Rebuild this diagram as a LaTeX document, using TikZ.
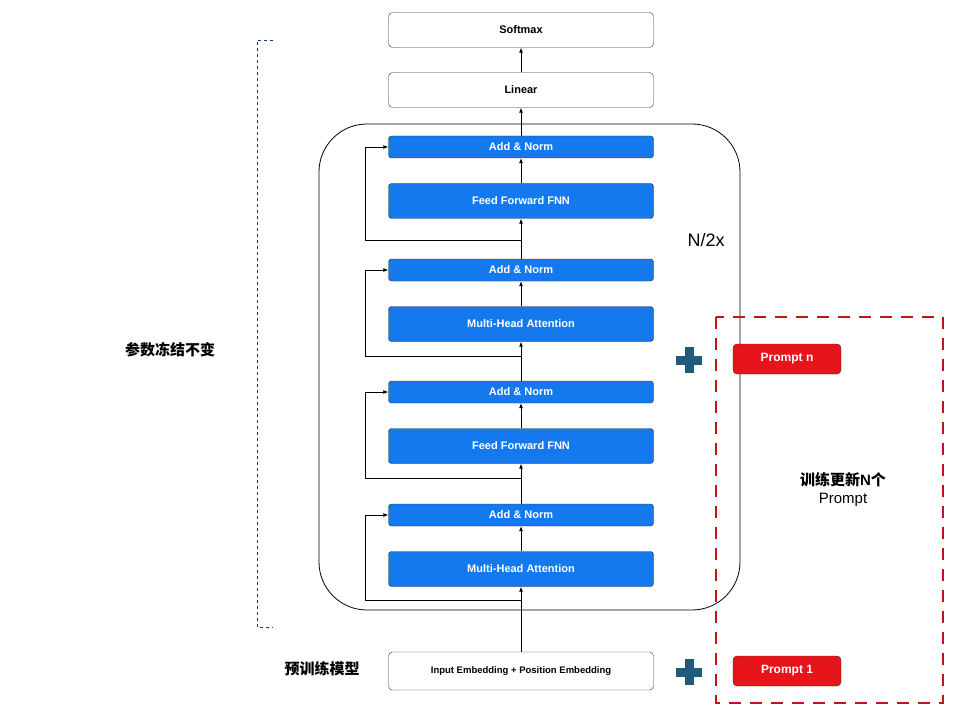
\documentclass[tikz,border=0pt]{standalone}
\usepackage{fontspec}
\setmainfont{Liberation Sans}
\newfontfamily\cjk{Noto Sans CJK SC}
\usetikzlibrary{arrows.meta}
\definecolor{blockblue}{HTML}{1479EE}
\definecolor{promptred}{HTML}{E8141C}
\definecolor{plusteal}{HTML}{215B7B}
\tikzset{
  blk/.style={draw=black!80,fill=blockblue,rounded corners=3pt,minimum width=265pt,text=white,font=\bfseries\fontsize{11}{13}\selectfont},
  wbox/.style={draw=black!80,fill=white,rounded corners=4pt,minimum width=265pt,minimum height=35pt,font=\bfseries\fontsize{11}{13}\selectfont},
  prm/.style={draw=black!80,fill=promptred,rounded corners=4pt,minimum width=108pt,minimum height=30pt,text=white,font=\bfseries\fontsize{12}{14}\selectfont},
  flow/.style={-{Latex[length=5pt,width=4pt]},line width=0.8pt},
  plus/.style={minimum size=26pt,inner sep=0pt,path picture={
    \fill[plusteal] ([xshift=-4.5pt]path picture bounding box.north) rectangle ([xshift=4.5pt]path picture bounding box.south);
    \fill[plusteal] ([yshift=-4.5pt]path picture bounding box.west) rectangle ([yshift=4.5pt]path picture bounding box.east);}}
}
\begin{document}
\begin{tikzpicture}[x=1pt,y=-1pt]
\useasboundingbox (0,0) rectangle (976,711);

% stack frame
\draw[line width=0.8pt,rounded corners=48pt] (319,124) rectangle (740,610);

% top boxes
\node[wbox] (softmax) at (521,30) {Softmax};
\node[wbox] (linear) at (521,90) {Linear};

% encoder blocks
\node[blk,minimum height=22pt] (an1) at (521,147) {Add \& Norm};
\node[blk,minimum height=35pt] (ffn1) at (521,201) {Feed Forward FNN};
\node[blk,minimum height=22pt] (an2) at (521,270) {Add \& Norm};
\node[blk,minimum height=35pt] (mha1) at (521,324) {Multi-Head Attention};
\node[blk,minimum height=22pt] (an3) at (521,392) {Add \& Norm};
\node[blk,minimum height=35pt] (ffn2) at (521,446) {Feed Forward FNN};
\node[blk,minimum height=22pt] (an4) at (521,515) {Add \& Norm};
\node[blk,minimum height=35pt] (mha2) at (521,569) {Multi-Head Attention};

\node[wbox,minimum height=38pt,font=\bfseries\fontsize{9.5}{11}\selectfont] (embed) at (521,671) {Input Embedding + Position Embedding};

% main flow
\draw[flow] (embed) -- (mha2);
\draw[flow] (mha2) -- (an4);
\draw[flow] (an4) -- (ffn2);
\draw[flow] (ffn2) -- (an3);
\draw[flow] (an3) -- (mha1);
\draw[flow] (mha1) -- (an2);
\draw[flow] (an2) -- (ffn1);
\draw[flow] (ffn1) -- (an1);
\draw[flow] (an1) -- (linear);
\draw[flow] (linear) -- (softmax);

% residual paths
\foreach \blk/\y in {an4/600,an3/478,an2/356,an1/240}{
  \coordinate (r\blk) at (521,\y);
  \draw[flow] (r\blk) -- (365,\y) |- (\blk.west);
}

% frozen bracket
\draw[blockblue!50!black,dashed,line width=0.8pt] (273,40) -- (257,40) -- (257,627) -- (273,627);
\node[font=\cjk\bfseries\fontsize{15}{17}\selectfont] (frozen) at (170,350) {参数冻结不变};
\node[font=\cjk\bfseries\fontsize{15}{17}\selectfont] (pretrain) at (322,669) {预训练模型};
\node[font=\fontsize{18}{20}\selectfont] (rep) at (706,240) {N/2x};

% prompts
\draw[promptred!85!black,line width=2.5pt,dash pattern=on 12pt off 9pt] (716,317) rectangle (943,703);
\node[prm] (pn) at (787,359) {Prompt n};
\node[prm] (p1) at (787,671) {Prompt 1};
\node[plus] (plusn) at (689,360) {};
\node[plus] (plus1) at (689,672) {};
\node[align=center,font=\fontsize{15}{18}\selectfont] (ptxt) at (843,490) {{\cjk\bfseries 训练更新}\textbf{N}{\cjk\bfseries 个}\\Prompt};
\end{tikzpicture}
\end{document}
